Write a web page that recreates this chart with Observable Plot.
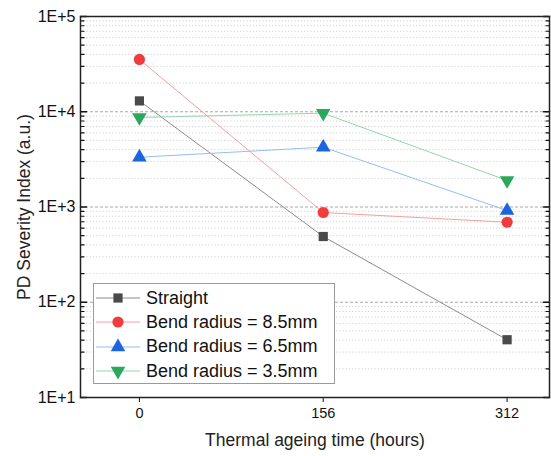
<!DOCTYPE html>
<html>
<head>
<meta charset="utf-8">
<script src="https://cdn.jsdelivr.net/npm/d3@7"></script>
<script src="https://cdn.jsdelivr.net/npm/@observablehq/plot@0.6"></script>
<style>
  html, body { margin: 0; padding: 0; background: #fff; }
  #wrap { position: relative; width: 551px; height: 456px; font-family: "Liberation Sans", Arial, sans-serif; }
  #wrap svg g[aria-label="x-axis label"] text, #wrap svg g[aria-label="y-axis label"] text { font-size: 17.5px; fill: #222; }
  #legend { position: absolute; left: 93px; top: 283px; width: 242px; height: 101px; border: 1px solid #9a9a9a; background: #fff; box-sizing: border-box; padding-top: 2px; }
  .row { display: flex; align-items: center; height: 24.3px; font-size: 18px; color: #111; }
  .row svg { flex: none; margin-right: 6px; }
</style>
</head>
<body>
<div id="wrap"></div>
<script>
// ---- data ----
const ageingHours = [0, 156, 312];
const seriesNames = ["Straight", "Bend radius = 8.5mm", "Bend radius = 6.5mm", "Bend radius = 3.5mm"];
const straight = [13000, 490, 40.4];
const bend85 = [35400, 875, 692];
const bend65 = [3330, 4245, 918];
const bend35 = [8710, 9660, 1900];
const yTickLabels = ["1E+1", "1E+2", "1E+3", "1E+4", "1E+5"];
const xTickLabels = ["0", "156", "312"];

const seriesValues = [straight, bend85, bend65, bend35];
const lineColors = ["#8c8c8c", "#f5a0a0", "#98bcf2", "#94d6ad"];
const markColors = ["#4a4a4a", "#f03c3c", "#1c64e0", "#2aa85c"];
const symbols = ["square", "circle", "triangle", "triangle"];
const rotations = [0, 0, 0, 180];
const radii = [5.2, 5.6, 5.4, 5.4];

const majorTicks = [10, 100, 1000, 10000, 100000];
const minorTicks = [];
for (const m of [10, 100, 1000, 10000]) for (let k = 2; k <= 9; k++) minorTicks.push(m * k);

const tickShape = { draw(context, l) { context.moveTo(0, 0); context.lineTo(0, -l); } };

const marks = [
  Plot.ruleY(minorTicks, { stroke: "#d2d2d2", strokeDasharray: "1.2,2" }),
  Plot.ruleY(majorTicks.slice(1, -1), { stroke: "#a8a8a8", strokeDasharray: "3,2" })
];
seriesValues.forEach((vals, i) => {
  const data = ageingHours.map((h, j) => ({ h, v: vals[j] }));
  marks.push(Plot.line(data, { x: "h", y: "v", stroke: lineColors[i], strokeWidth: 1 }));
});
seriesValues.forEach((vals, i) => {
  const data = ageingHours.map((h, j) => ({ h, v: vals[j] }));
  marks.push(Plot.dot(data, { x: "h", y: "v", symbol: symbols[i], fill: markColors[i], r: radii[i], rotate: rotations[i] }));
});
// inward ticks on left & right
marks.push(
  Plot.vector(majorTicks, { y: d => d, frameAnchor: "left", length: 6, rotate: 90, anchor: "start", shape: tickShape, stroke: "#111", strokeWidth: 1.4 }),
  Plot.vector(minorTicks, { y: d => d, frameAnchor: "left", length: 3.5, rotate: 90, anchor: "start", shape: tickShape, stroke: "#111", strokeWidth: 1.2 }),
  Plot.vector(majorTicks, { y: d => d, frameAnchor: "right", length: 6, rotate: -90, anchor: "start", shape: tickShape, stroke: "#111", strokeWidth: 1.4 }),
  Plot.vector(minorTicks, { y: d => d, frameAnchor: "right", length: 3.5, rotate: -90, anchor: "start", shape: tickShape, stroke: "#111", strokeWidth: 1.2 })
);
marks.push(
  Plot.axisY({ ticks: majorTicks, tickSize: 0, tickPadding: 5, tickFormat: d => yTickLabels[majorTicks.indexOf(d)], fontSize: 16, label: "PD Severity Index (a.u.)", labelAnchor: "center", labelArrow: "none", labelOffset: 63 }),
  Plot.axisX({ ticks: ageingHours, tickSize: 5, tickPadding: 5, tickFormat: d => xTickLabels[ageingHours.indexOf(d)], fontSize: 14.5, label: "Thermal ageing time (hours)", labelAnchor: "center", labelArrow: "none", labelOffset: 48 }),
  Plot.frame({ stroke: "#222", strokeWidth: 1.5 })
);

const chart = Plot.plot({
  width: 551,
  height: 456,
  marginLeft: 80,
  marginRight: 2,
  marginTop: 16,
  marginBottom: 59,
  style: { fontFamily: "Liberation Sans, Arial, sans-serif", fontSize: "16px", color: "#111", background: "#fff" },
  x: { domain: [-50, 348] },
  y: { type: "log", domain: [10, 100000] },
  marks
});
const wrap = document.getElementById("wrap");
wrap.appendChild(chart);

// legend
const legend = document.createElement("div");
legend.id = "legend";
seriesNames.forEach((name, i) => {
  const row = document.createElement("div");
  row.className = "row";
  const sym = d3.symbol().type(i === 0 ? d3.symbolSquare : i === 1 ? d3.symbolCircle : d3.symbolTriangle).size(Math.PI * radii[i] * radii[i])();
  row.innerHTML = `<svg width="46" height="20"><line x1="2" x2="46" y1="10" y2="10" stroke="${lineColors[i]}" stroke-width="1.2"/><path d="${sym}" transform="translate(24,10) rotate(${rotations[i]})" fill="${markColors[i]}"/></svg><span>${name}</span>`;
  legend.appendChild(row);
});
wrap.appendChild(legend);
</script>
</body>
</html>
